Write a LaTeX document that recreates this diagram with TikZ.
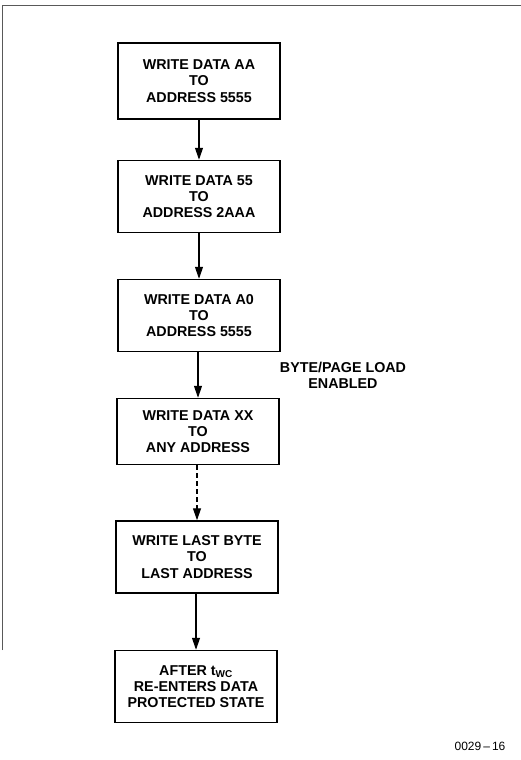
\documentclass[tikz,border=0pt]{standalone}
\usepackage{fontspec}
\setmainfont{Liberation Sans}
\usetikzlibrary{arrows.meta}
\begin{document}
\begin{tikzpicture}[x=1pt,y=-1pt,
  stepbox/.style={draw, line width=1.5pt, minimum width=162pt, minimum height=72pt, align=center, inner sep=0pt, font=\fontsize{14.3}{16.3}\selectfont\bfseries},
  flow/.style={line width=1.2pt, -{Triangle[length=12pt,width=8pt]}},
  note/.style={align=center, font=\fontsize{14.3}{16.3}\selectfont\bfseries}]
\useasboundingbox (0,0) rectangle (521,760);
\coordinate (tl) at (2,6);
\coordinate (tr) at (521,6);
\coordinate (bl) at (2,650);
\draw[line width=1pt, gray!70!black] (bl) -- (tl) -- (tr);
\node[stepbox, minimum height=76pt] (b1) at (199,81) {WRITE DATA AA\\TO\\ADDRESS 5555};
\node[stepbox] (b2) at (199,196.5) {WRITE DATA 55\\TO\\ADDRESS 2AAA};
\node[stepbox] (b3) at (199,315.5) {WRITE DATA A0\\TO\\ADDRESS 5555};
\node[stepbox, minimum height=66pt] (b4) at (198,431.5) {WRITE DATA XX\\TO\\ANY ADDRESS};
\node[stepbox] (b5) at (197,557) {WRITE LAST BYTE\\TO\\LAST ADDRESS};
\node[stepbox] (b6) at (196,686.5) {AFTER t\textsubscript{WC}\\RE-ENTERS DATA\\PROTECTED STATE};
\node[note] (lbl) at (343,375) {BYTE/PAGE LOAD\\ENABLED};
\node[font=\fontsize{12}{14}\selectfont] (id) at (480,746) {0029\,–\,16};
\draw[flow] (b1.south) -- (b1.south |- b2.north);
\draw[flow] (b2.south) -- (b2.south |- b3.north);
\draw[flow] (b3.south -| b4.north) -- (b4.north);
\draw[flow, dash pattern=on 5pt off 3pt] (b4.south -| b5.north) -- (b5.north);
\draw[flow] (b5.south -| b6.north) -- (b6.north);
\end{tikzpicture}
\end{document}
